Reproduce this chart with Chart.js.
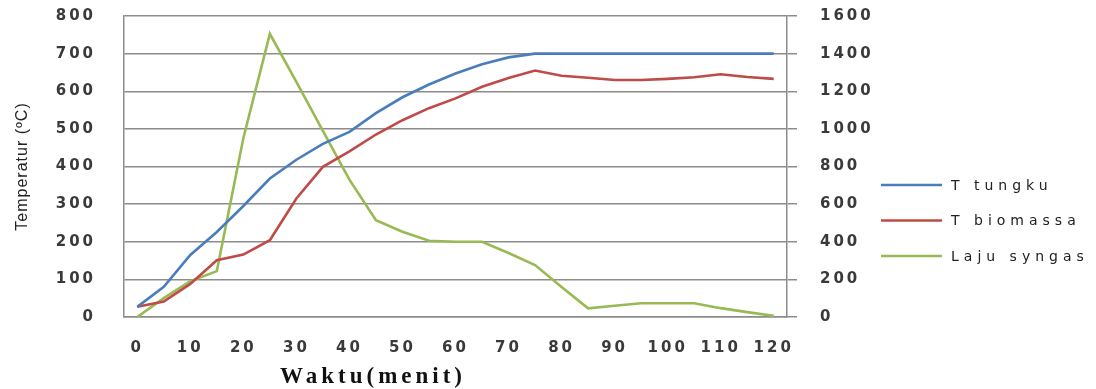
<!DOCTYPE html>
<html>
<head>
<meta charset="utf-8">
<script src="https://cdn.jsdelivr.net/npm/chart.js@4.4.0/dist/chart.umd.min.js"></script>
<style>
  html, body { margin: 0; padding: 0; background: #fff; }
  #wrap { width: 1096px; height: 389px; position: relative; }
</style>
</head>
<body>
<div id="wrap"><canvas id="lineChart"></canvas></div>
<script>
// waktu (menit)
var minutes = [0, 5, 10, 15, 20, 25, 30, 35, 40, 45, 50, 55, 60, 65, 70, 75, 80, 85, 90, 95, 100, 105, 110, 115, 120];

// temperatures (left axis, ºC)
var tTungku   = [27, 80, 165, 226, 295, 368, 418, 460, 492, 542, 584, 618, 647, 672, 690, 700, 700, 700, 700, 700, 700, 700, 700, 700, 700];
var tBiomassa = [27, 41, 88, 151, 166, 204, 315, 399, 440, 485, 523, 555, 581, 612, 635, 655, 641, 636, 630, 630, 633, 637, 645, 638, 633];

// syngas rate (right axis)
var lajuSyngas = [0, 100, 190, 244, 950, 1505, 1250, 990, 730, 515, 453, 405, 400, 400, 340, 276, 160, 46, 60, 73, 73, 73, 47, 26, 6];

var seriesNames  = ["T tungku", "T biomassa", "Laju syngas"];
var seriesColors = ["#4A7EBB", "#BE4B48", "#98B954"];

var gridGray = "#8c8c8c";
var tickFont = { family: "DejaVu Sans", size: 15, weight: "bold" };

// fixed axis widths, and no label overhang added above/below the plot
function fixWidth(w) {
    return s => {
        s.width = w;
        s.paddingTop = 0;
        s.paddingBottom = 0;
    };
}

// letter spaced text, the legend and the axis titles
var extras = {
    id: "extras",
    beforeDraw(chart) {
        chart.ctx.letterSpacing = "3px";
    },
    afterDraw(chart) {
        const ctx = chart.ctx;
        const area = chart.chartArea;
        ctx.save();

        // legend
        ctx.letterSpacing = "5px";
        ctx.font = '14px "DejaVu Sans"';
        ctx.textAlign = "left";
        ctx.textBaseline = "middle";
        chart.data.datasets.forEach((ds, i) => {
            const y = 185 + i * 35.5;
            ctx.strokeStyle = ds.borderColor;
            ctx.lineWidth = 2.5;
            ctx.beginPath();
            ctx.moveTo(area.right + 94, y);
            ctx.lineTo(area.right + 155, y);
            ctx.stroke();
            ctx.fillStyle = "#222";
            ctx.fillText(ds.label, area.right + 164, y + 1);
        });

        // x title
        ctx.letterSpacing = "4px";
        ctx.font = 'bold 23px "Liberation Serif"';
        ctx.fillStyle = "#111";
        ctx.textBaseline = "alphabetic";
        ctx.fillText("Waktu(menit)", 280, 383);

        // y title
        ctx.letterSpacing = "1px";
        ctx.font = '16px "Liberation Sans"';
        ctx.fillStyle = "#222";
        ctx.translate(23, (area.top + area.bottom) / 2);
        ctx.rotate(-Math.PI / 2);
        ctx.textAlign = "center";
        ctx.textBaseline = "middle";
        ctx.fillText("Temperatur (ºC)", 0, 0);

        ctx.restore();
    }
};

const ctx = document.getElementById("lineChart").getContext("2d");

new Chart(ctx, {
    type: "line",
    data: {
        labels: minutes,
        datasets: [
            { label: seriesNames[0], data: tTungku,    borderColor: seriesColors[0], yAxisID: "y" },
            { label: seriesNames[1], data: tBiomassa,  borderColor: seriesColors[1], yAxisID: "y" },
            { label: seriesNames[2], data: lajuSyngas, borderColor: seriesColors[2], yAxisID: "y1" }
        ]
    },
    options: {
        responsive: true,
        maintainAspectRatio: false,
        animation: false,
        layout: { padding: { top: 16, left: 0, right: 0, bottom: 0 } },
        elements: {
            line: { borderWidth: 2.6, tension: 0, fill: false },
            point: { radius: 0 }
        },
        plugins: {
            legend: { display: false },
            tooltip: { enabled: false }
        },
        scales: {
            x: {
                offset: true,
                afterFit: s => { s.height = 72; },
                grid: { display: false },
                border: { display: true, color: gridGray, width: 1.5 },
                ticks: {
                    autoSkip: false,
                    maxRotation: 0,
                    minRotation: 0,
                    padding: 14,
                    color: "#3a3a3a",
                    font: tickFont,
                    callback: function (value, index) {
                        return index % 2 === 0 ? this.getLabelForValue(value) : "";
                    }
                }
            },
            y: {
                position: "left",
                min: 0,
                max: 800,
                afterFit: fixWidth(124),
                grid: { color: gridGray, lineWidth: 1.5, drawTicks: false },
                border: { display: true, color: gridGray, width: 1.5 },
                ticks: { stepSize: 100, padding: 28, color: "#3a3a3a", font: tickFont }
            },
            y1: {
                position: "right",
                min: 0,
                max: 1600,
                afterFit: fixWidth(309),
                grid: { drawOnChartArea: false, color: gridGray, lineWidth: 1.5, tickLength: 10 },
                border: { display: true, color: gridGray, width: 1.5 },
                ticks: {
                    stepSize: 200,
                    padding: 23,
                    color: "#3a3a3a",
                    font: tickFont,
                    callback: v => String(v)
                }
            }
        }
    },
    plugins: [extras]
});
</script>
</body>
</html>
